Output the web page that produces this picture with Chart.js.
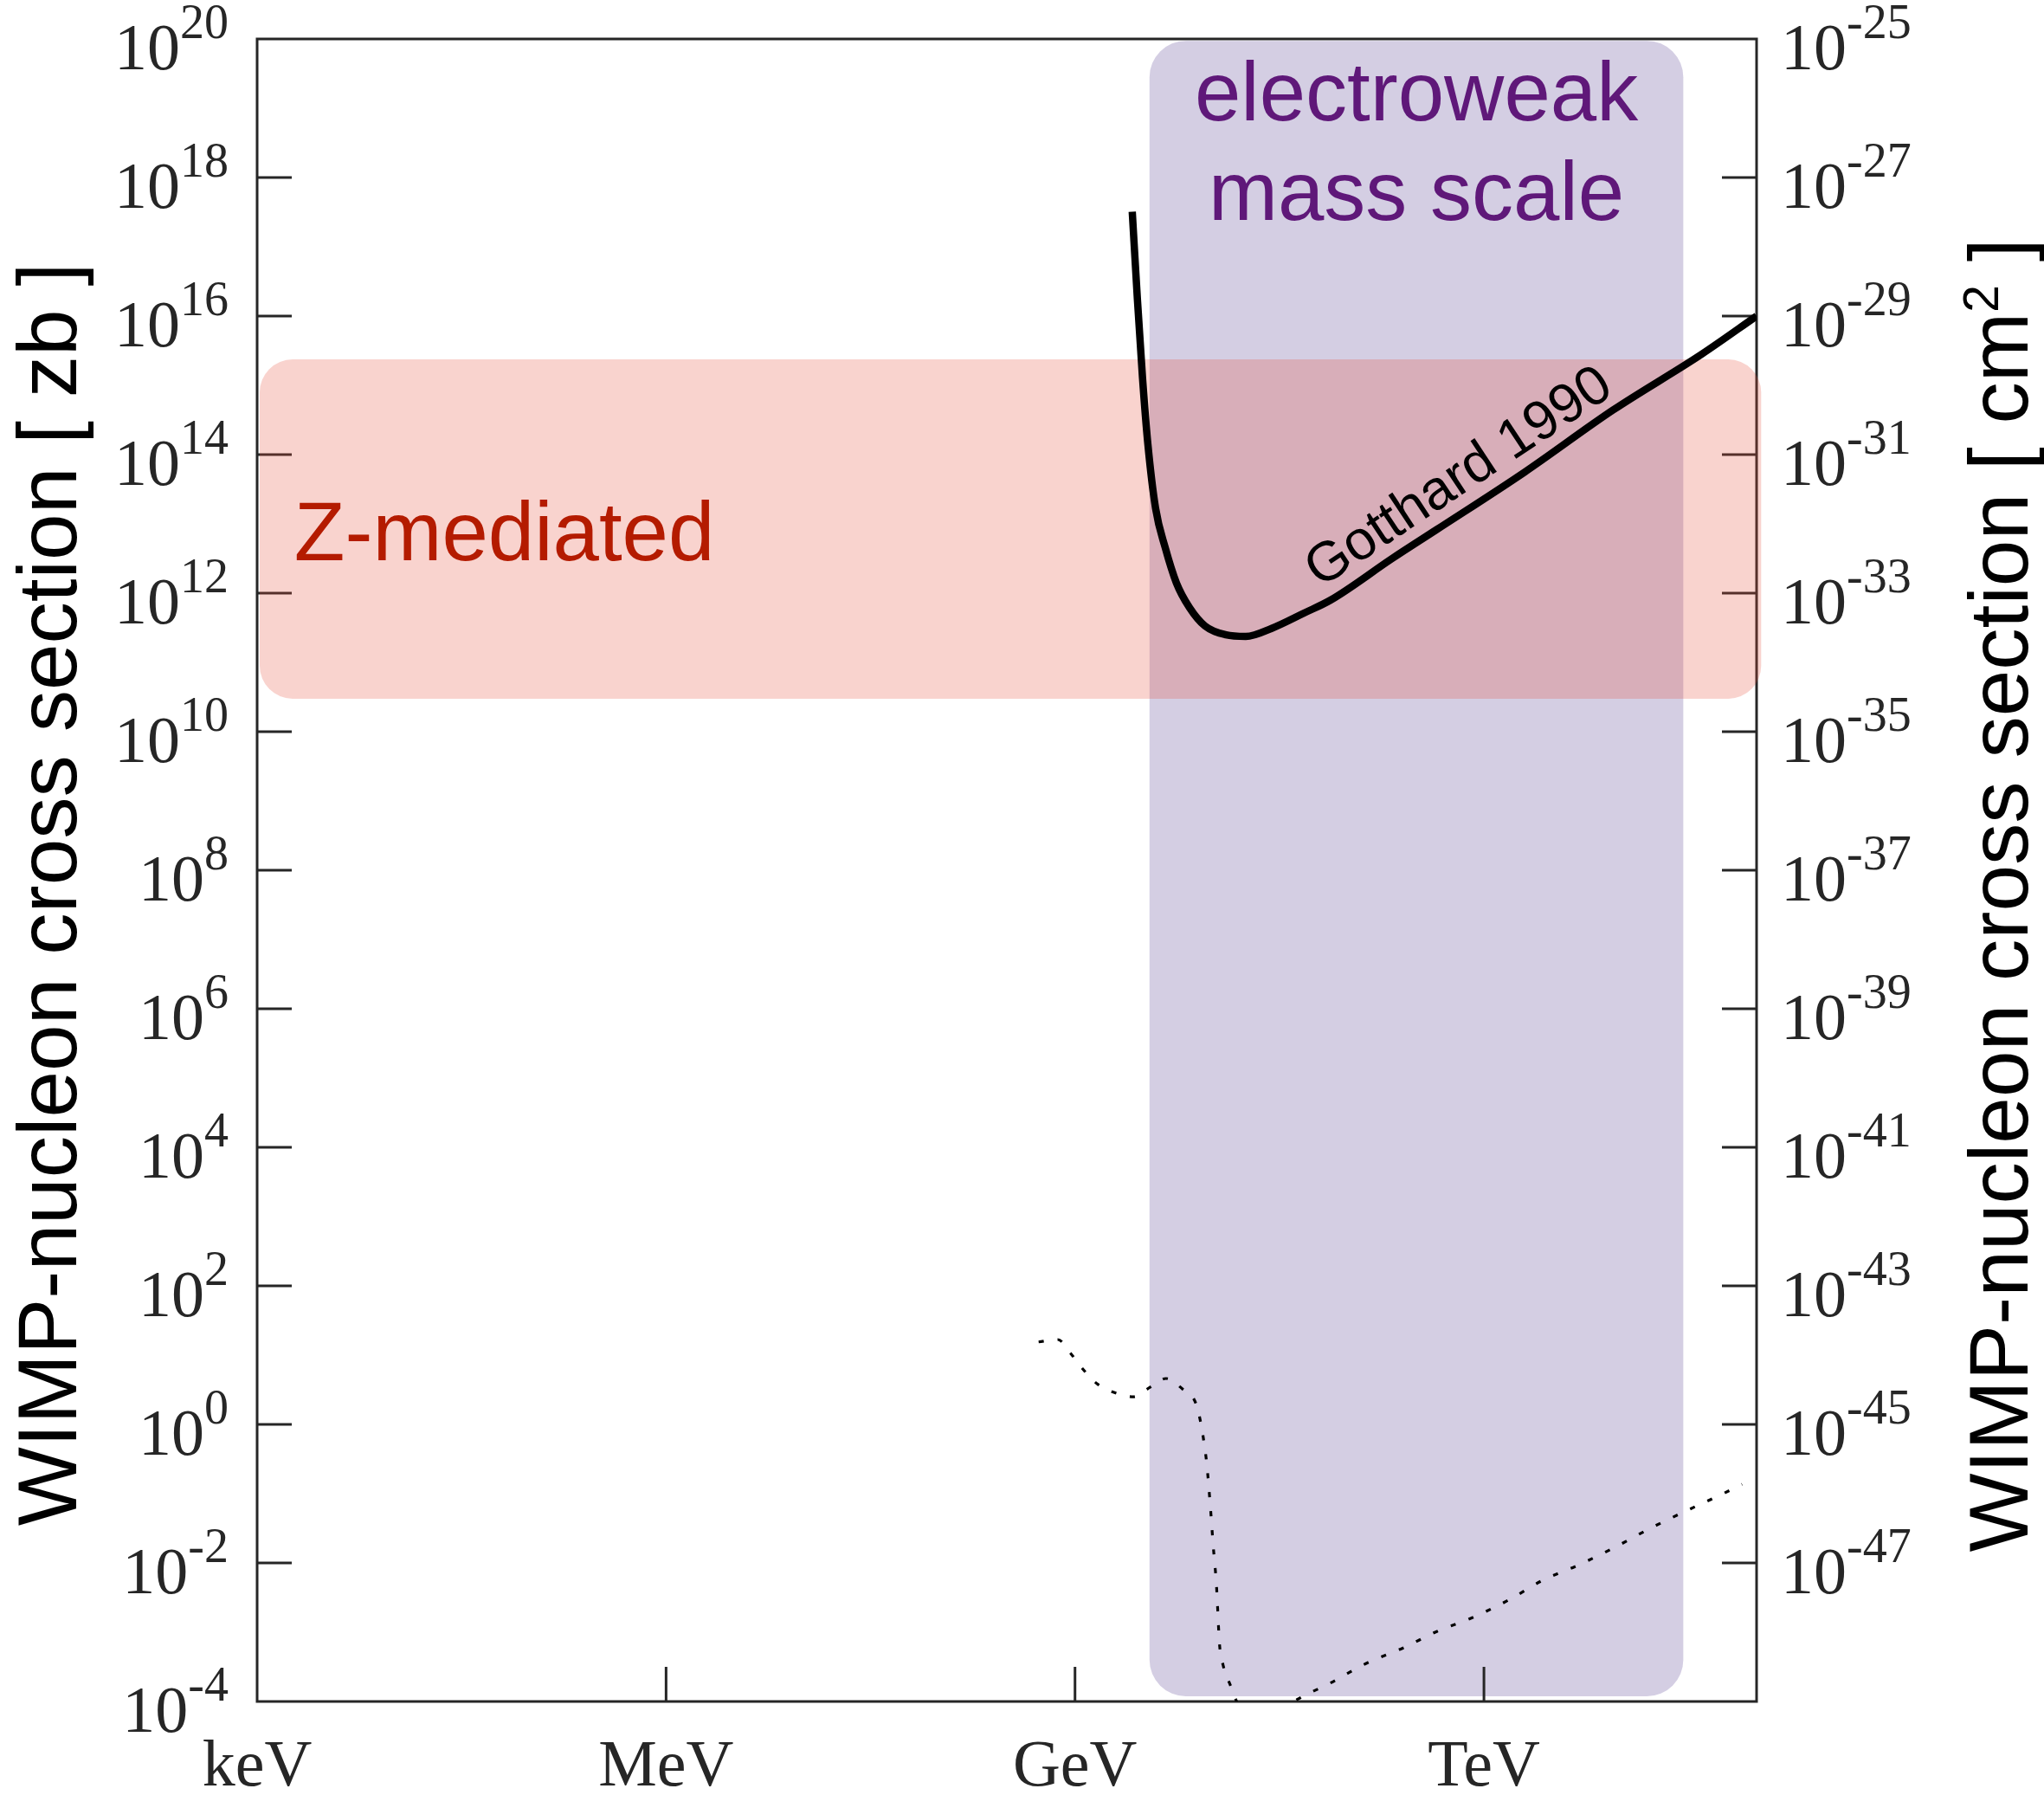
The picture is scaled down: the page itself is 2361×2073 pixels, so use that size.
<!DOCTYPE html>
<html>
<head>
<meta charset="utf-8">
<script src="https://cdn.jsdelivr.net/npm/chart.js@4/dist/chart.umd.min.js"></script>
<style>
html,body{margin:0;padding:0;background:#ffffff;overflow:hidden}
#wrap{width:2361px;height:2073px;position:relative}
</style>
</head>
<body>
<div id="wrap"><canvas id="c" width="2361" height="2073"></canvas></div>
<script>
// ---------------- data ----------------
// x: WIMP mass in GeV, y: WIMP-nucleon cross section in zb (1 zb = 1e-45 cm^2)
const gotthardMassGeV  = [2.63, 2.87, 3.13, 3.42, 3.90, 4.58, 5.54, 6.91, 9.0, 12.8, 17.9, 27.7, 48.3, 75, 212, 447, 1990, 8850, 39400, 100000];
const gotthardSigmaZb  = [3.2e17, 1.73e16, 1.26e15, 1.45e14, 1.68e13, 4.6e12, 1.41e12, 6.2e11, 3.35e11, 2.5e11, 2.37e11, 3.1e11, 5.2e11, 7.94e11, 3.16e12, 8.2e12, 5.6e13, 4.4e14, 2.8e15, 1e16];

const dottedMassGeV = [0.541, 0.746, 0.929, 1.14, 1.45, 1.93, 2.67, 3.57, 4.65, 6.14, 7.76, 8.36, 8.86, 9.25, 9.81, 10.3, 10.9, 11.5, 12.2, 13.7, 16.4, 26.5, 42.4, 76, 137, 257, 454, 827, 1510, 2700, 5000, 9120, 16600, 30300, 56800, 78300];
const dottedSigmaZb = [15.5, 16.8, 10.6, 6.3, 3.87, 2.9, 2.51, 3.45, 4.6, 3.25, 1.94, 1.06, 0.53, 0.274, 0.0708, 0.0188, 0.00487, 6.5e-4, 3.35e-4, 1.78e-4, 7.9e-5, 5.6e-5, 1.06e-4, 1.88e-4, 3.55e-4, 5.96e-4, 1.03e-3, 1.63e-3, 2.9e-3, 5.62e-3, 9.44e-3, 1.68e-2, 3.16e-2, 5.62e-2, 0.1, 0.137];

// shaded regions [min, max]
const zBandMassGeV  = [1.045e-6, 1.08e5];
const zBandSigmaZb  = [2.99e10, 2.37e15];
const ewBandMassGeV = [3.52, 2.9e4];
const ewBandSigmaZb = [1.19e-4, 9.4e19];

// axes
const xMin = 1e-6, xMax = 1e5;
const yMin = 1e-4, yMax = 1e20;
const xTickValues = [1e-6, 1e-3, 1, 1e3];
const xTickLabels = ['keV', 'MeV', 'GeV', 'TeV'];
const yTickExponents = [20, 18, 16, 14, 12, 10, 8, 6, 4, 2, 0, -2, -4];
const yRightExponents = [-25, -27, -29, -31, -33, -35, -37, -39, -41, -43, -45, -47];
const zbToCm2Exponent = -45;

// text annotations (anchor in data coordinates)
const ewLabelLines = ['electroweak', 'mass scale'];
const ewLabelSigma = [6.68e18, 2.44e17];
const zLabelText = 'Z-mediated';
const zLabelAnchor = {x: 1.87e-6, y: 2.99e12};
const gotthardLabelText = 'Gotthard 1990';
const gotthardLabelAnchor = {x: 760, y: 2.99e13};
const yTitleLeft = 'WIMP-nucleon cross section [ zb ]';
const yTitleRight = ['WIMP-nucleon cross section [ cm', '2', ' ]'];

// ---------------- drawing helpers ----------------
const SERIF = '"Liberation Serif", "Times New Roman", serif';
const SANS = '"Liberation Sans", Arial, Helvetica, sans-serif';
const AXIS_COLOR = '#262626';

function roundRectPath(ctx, x0, y0, x1, y1, r) {
  const w = x1 - x0, h = y1 - y0;
  r = Math.min(r, w / 2, h / 2);
  ctx.beginPath();
  ctx.moveTo(x0 + r, y0);
  ctx.lineTo(x1 - r, y0);
  ctx.arcTo(x1, y0, x1, y0 + r, r);
  ctx.lineTo(x1, y1 - r);
  ctx.arcTo(x1, y1, x1 - r, y1, r);
  ctx.lineTo(x0 + r, y1);
  ctx.arcTo(x0, y1, x0, y1 - r, r);
  ctx.lineTo(x0, y0 + r);
  ctx.arcTo(x0, y0, x0 + r, y0, r);
  ctx.closePath();
}

function drawBand(ctx, xs, ys, mx, my, color, r) {
  const x0 = xs.getPixelForValue(mx[0]), x1 = xs.getPixelForValue(mx[1]);
  const y0 = ys.getPixelForValue(my[1]), y1 = ys.getPixelForValue(my[0]);
  ctx.save();
  ctx.fillStyle = color;
  roundRectPath(ctx, x0, y0, x1, y1, r);
  ctx.fill();
  ctx.restore();
}

function drawPow(ctx, xPos, yBase, exp, align) {
  const main = '10', sup = String(exp);
  ctx.font = '76px ' + SERIF;
  const w1 = ctx.measureText(main).width;
  ctx.font = '56px ' + SERIF;
  const w2 = ctx.measureText(sup).width;
  const x0 = align === 'right' ? xPos - w1 - w2 : xPos;
  ctx.textAlign = 'left';
  ctx.textBaseline = 'alphabetic';
  ctx.font = '76px ' + SERIF;
  ctx.fillText(main, x0, yBase);
  ctx.font = '56px ' + SERIF;
  ctx.fillText(sup, x0 + w1, yBase - 36);
}

const deco = {
  id: 'deco',
  beforeDatasetsDraw(chart) {
    const ctx = chart.ctx, a = chart.chartArea;
    const xs = chart.scales.x, ys = chart.scales.y;

    // electroweak band (under the frame)
    drawBand(ctx, xs, ys, ewBandMassGeV, ewBandSigmaZb, 'rgba(83,59,143,0.25)', 42);

    // frame
    ctx.save();
    ctx.strokeStyle = AXIS_COLOR;
    ctx.lineWidth = 3;
    ctx.strokeRect(a.left, a.top, a.right - a.left, a.bottom - a.top);
    // y ticks (inward, both sides)
    ctx.beginPath();
    yTickExponents.forEach(e => {
      if (e === 20 || e === -4) return;
      const py = ys.getPixelForValue(Math.pow(10, e));
      ctx.moveTo(a.left, py); ctx.lineTo(a.left + 40, py);
    });
    yRightExponents.forEach(e => {
      const v = Math.pow(10, e - zbToCm2Exponent);
      if (v >= yMax || v <= yMin) return;
      const py = ys.getPixelForValue(v);
      ctx.moveTo(a.right - 40, py); ctx.lineTo(a.right, py);
    });
    // x ticks (inward)
    xTickValues.forEach(v => {
      if (v <= xMin || v >= xMax) return;
      const px = xs.getPixelForValue(v);
      ctx.moveTo(px, a.bottom); ctx.lineTo(px, a.bottom - 40);
    });
    ctx.stroke();

    // tick labels
    ctx.fillStyle = AXIS_COLOR;
    yTickExponents.forEach(e => {
      const py = ys.getPixelForValue(Math.pow(10, e));
      drawPow(ctx, a.left - 33, py + 35, e, 'right');
    });
    yRightExponents.forEach(e => {
      const py = ys.getPixelForValue(Math.pow(10, e - zbToCm2Exponent));
      drawPow(ctx, a.right + 28, py + 35, e, 'left');
    });
    ctx.font = '76px ' + SERIF;
    ctx.textAlign = 'center';
    ctx.textBaseline = 'alphabetic';
    xTickValues.forEach((v, i) => {
      const px = xs.getPixelForValue(v);
      ctx.fillText(xTickLabels[i], px, a.bottom + 97);
    });

    // axis titles
    ctx.fillStyle = '#000000';
    ctx.font = '96.5px ' + SANS;
    ctx.save();
    ctx.translate(88, 1033);
    ctx.rotate(-Math.PI / 2);
    ctx.textAlign = 'center';
    ctx.fillText(yTitleLeft, 0, 0);
    ctx.restore();

    ctx.save();
    ctx.translate(2342, 1034);
    ctx.rotate(-Math.PI / 2);
    ctx.textAlign = 'left';
    ctx.font = '96.5px ' + SANS;
    const wA = ctx.measureText(yTitleRight[0]).width;
    const wC = ctx.measureText(yTitleRight[2]).width;
    ctx.font = '57px ' + SANS;
    const wB = ctx.measureText(yTitleRight[1]).width;
    let sx = -(wA + wB + wC) / 2;
    ctx.font = '96.5px ' + SANS;
    ctx.fillText(yTitleRight[0], sx, 0);
    ctx.font = '57px ' + SANS;
    ctx.fillText(yTitleRight[1], sx + wA, -34);
    ctx.font = '96.5px ' + SANS;
    ctx.fillText(yTitleRight[2], sx + wA + wB, 0);
    ctx.restore();
    ctx.restore();

    // Z-mediated band (over the frame)
    drawBand(ctx, xs, ys, zBandMassGeV, zBandSigmaZb, 'rgba(231,79,59,0.25)', 38);

    // band labels
    ctx.save();
    ctx.textBaseline = 'alphabetic';
    ctx.font = '96px ' + SANS;
    ctx.fillStyle = '#5f1879';
    ctx.textAlign = 'center';
    const ewCx = (xs.getPixelForValue(ewBandMassGeV[0]) + xs.getPixelForValue(ewBandMassGeV[1])) / 2;
    ewLabelLines.forEach((t, i) => ctx.fillText(t, ewCx, ys.getPixelForValue(ewLabelSigma[i])));
    ctx.fillStyle = '#b41b00';
    ctx.textAlign = 'left';
    ctx.fillText(zLabelText, xs.getPixelForValue(zLabelAnchor.x), ys.getPixelForValue(zLabelAnchor.y));
    ctx.restore();
  },
  afterDatasetsDraw(chart) {
    const ctx = chart.ctx;
    const xs = chart.scales.x, ys = chart.scales.y;
    ctx.save();
    ctx.translate(xs.getPixelForValue(gotthardLabelAnchor.x), ys.getPixelForValue(gotthardLabelAnchor.y));
    ctx.rotate(-33.5 * Math.PI / 180);
    ctx.font = '64px ' + SANS;
    ctx.fillStyle = '#000000';
    ctx.textAlign = 'center';
    ctx.textBaseline = 'alphabetic';
    ctx.fillText(gotthardLabelText, 0, 0);
    ctx.restore();
  }
};

new Chart(document.getElementById('c'), {
  type: 'scatter',
  data: {
    datasets: [
      {
        label: 'Gotthard 1990',
        data: gotthardMassGeV.map((m, i) => ({x: m, y: gotthardSigmaZb[i]})),
        showLine: true,
        borderColor: '#000000',
        borderWidth: 8.5,
        pointRadius: 0,
        pointHoverRadius: 0,
        cubicInterpolationMode: 'monotone',
        borderJoinStyle: 'round',
        fill: false
      },
      {
        label: 'dotted',
        data: dottedMassGeV.map((m, i) => ({x: m, y: dottedSigmaZb[i]})),
        showLine: true,
        borderColor: '#000000',
        borderWidth: 3.2,
        borderDash: [6, 16],
        pointRadius: 0,
        pointHoverRadius: 0,
        cubicInterpolationMode: 'monotone',
        fill: false,
        clip: 0
      }
    ]
  },
  options: {
    responsive: false,
    animation: false,
    devicePixelRatio: 1,
    events: [],
    layout: {padding: {left: 297, top: 45, right: 332, bottom: 108}},
    plugins: {legend: {display: false}, tooltip: {enabled: false}},
    scales: {
      x: {type: 'logarithmic', min: xMin, max: xMax, display: false},
      y: {type: 'logarithmic', min: yMin, max: yMax, display: false}
    }
  },
  plugins: [deco]
});
</script>
</body>
</html>
